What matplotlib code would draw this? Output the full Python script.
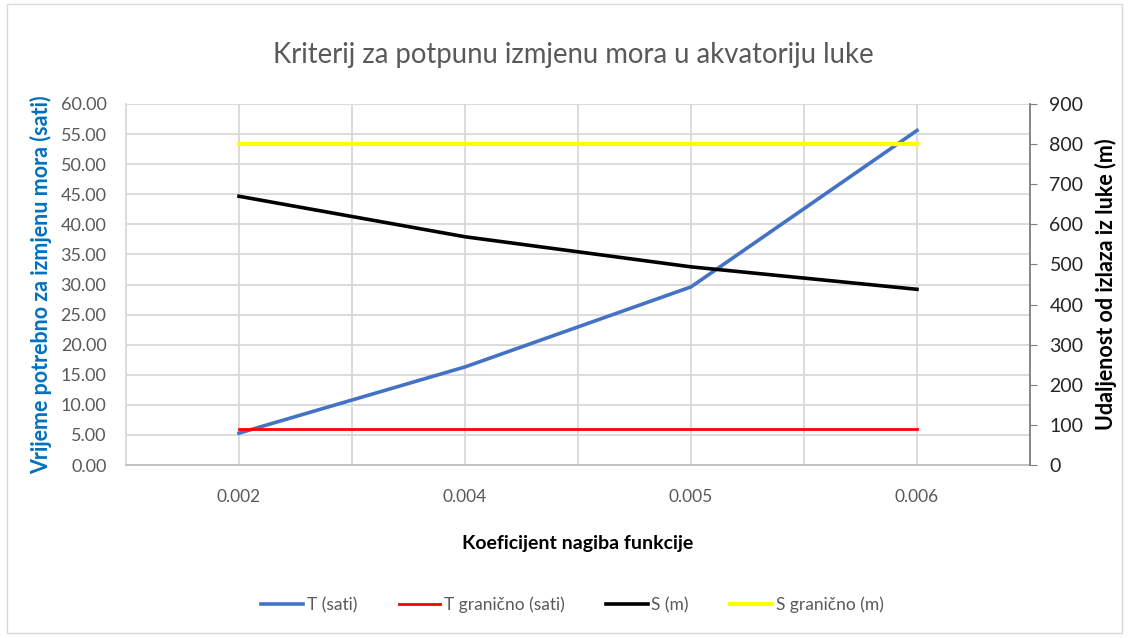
import numpy as np
import matplotlib.pyplot as plt
from matplotlib.patches import Rectangle

plt.rcParams['font.family'] = ['Lato', 'DejaVu Sans']

# data
koeficijent = ["0.002", "0.004", "0.005", "0.006"]
t_sati = [5.3, 16.3, 29.6, 55.6]
t_granicno = [6.0, 6.0, 6.0, 6.0]
s_m = [670, 569, 494, 438]
s_granicno = [800, 800, 800, 800]

x = np.arange(len(koeficijent))
grid_col = "#D9D9D9"

fig = plt.figure(figsize=(11.29, 6.38), dpi=100)
fig.patches.append(Rectangle((0.006, 0.008), 0.988, 0.985, transform=fig.transFigure,
                             fill=False, edgecolor="#D9D9D9", lw=1))

ax = fig.add_axes([126 / 1129, 173 / 638, 904 / 1129, 361 / 638])
ax2 = ax.twinx()

l1, = ax.plot(x, t_sati, color="#4472C4", lw=2.6)
l2, = ax.plot(x, t_granicno, color="#FF0000", lw=2)
l3, = ax2.plot(x, s_m, color="#000000", lw=2.6)
l4, = ax2.plot(x, s_granicno, color="#FFFF00", lw=3)

ax.set_xlim(-0.5, 3.5)
ax.set_ylim(0, 60)
ax.set_yticks(np.arange(0, 61, 5))
ax.set_yticklabels([f"{v:.2f}" for v in np.arange(0, 61, 5)])
ax2.set_ylim(0, 900)
ax2.set_yticks(np.arange(0, 901, 100))

# grid: horizontal on primary scale, vertical at every half category
ax.grid(axis="y", color=grid_col, lw=1.3)
for gx in np.arange(0, 3.51, 0.5):
    ax.axvline(gx, color=grid_col, lw=1.3, zorder=0)
ax.set_axisbelow(True)

ax.set_xticks(x)
ax.set_xticklabels(koeficijent)
ax.tick_params(axis="x", length=0, pad=17, labelsize=12.5, labelcolor="#595959")
ax.tick_params(axis="y", length=0, pad=14, labelsize=13, labelcolor="#595959")
ax2.tick_params(axis="y", length=5, direction="out", color="#7F7F7F",
                pad=9, labelsize=14, labelcolor="#262626")

for sp in ["top"]:
    ax.spines[sp].set_visible(False)
    ax2.spines[sp].set_visible(False)
ax.spines["left"].set_color("#D9D9D9")
ax.spines["bottom"].set_color("#BFBFBF")
ax.spines["right"].set_visible(False)
ax2.spines["left"].set_visible(False)
ax2.spines["bottom"].set_visible(False)
ax2.spines["right"].set_color("#7F7F7F")
for s in ["left", "bottom"]:
    ax.spines[s].set_linewidth(1.3)
ax2.spines["right"].set_linewidth(1.3)

ax.set_ylabel("Vrijeme potrebno za izmjenu mora (sati)", color="#0070C0",
              fontsize=15.5, fontweight="bold", labelpad=6)
ax2.set_ylabel("Udaljenost od izlaza iz luke (m)", color="#000000",
               fontsize=15.5, fontweight="bold", labelpad=8)
ax.set_xlabel("Koeficijent nagiba funkcije", fontsize=14, fontweight="bold",
              labelpad=22)

fig.text(0.508, 0.914, "Kriterij za potpunu izmjenu mora u akvatoriju luke",
         ha="center", va="center", fontsize=19.8, color="#595959")

fig.legend([l1, l2, l3, l4],
           ["T (sati)", "T granično (sati)", "S (m)", "S granično (m)"],
           loc="center", bbox_to_anchor=(0.507, 0.052), ncol=4, frameon=False,
           fontsize=12.5, labelcolor="#595959", handlelength=2.4,
           handletextpad=0.2, columnspacing=2.4)

fig.savefig("out.png", dpi=100)
